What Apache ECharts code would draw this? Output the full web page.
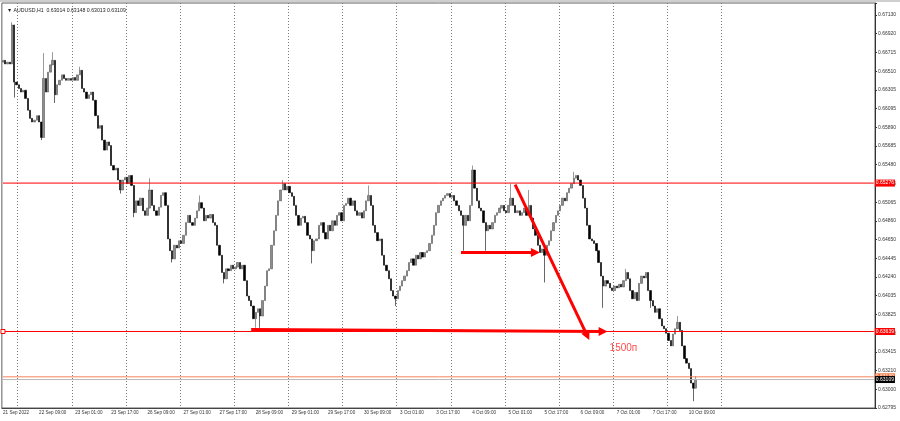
<!DOCTYPE html>
<html>
<head>
<meta charset="utf-8">
<title>AUDUSD,H1</title>
<script src="https://cdn.jsdelivr.net/npm/echarts@6/dist/echarts.min.js"></script>
<style>
  html, body { margin: 0; padding: 0; background: #fff; }
  #chart { width: 900px; height: 421px; }
</style>
</head>
<body>
<div id="chart"></div>
<script>
// AUDUSD H1, 21 Sep 2022 17:00 .. 10 Oct 2022 11:00
const symbolName = 'AUDUSD,H1';

// bottom axis labels, one every 16 bars
const xTickLabels = ['21 Sep 2022', '22 Sep 09:00', '23 Sep 01:00', '23 Sep 17:00', '26 Sep 09:00',
  '27 Sep 01:00', '27 Sep 17:00', '28 Sep 09:00', '29 Sep 01:00', '29 Sep 17:00', '30 Sep 09:00',
  '3 Oct 01:00', '3 Oct 17:00', '4 Oct 09:00', '5 Oct 01:00', '5 Oct 17:00', '6 Oct 09:00',
  '7 Oct 01:00', '7 Oct 17:00', '10 Oct 09:00'];
const barsPerLabel = 16;

// bars that open a new trading day (00:00) -> dotted separators
const dayStartBars = [7, 31, 55, 79, 103, 127, 151, 175, 199, 223, 247, 271, 295, 319];

// price scale labels, bottom to top
const yTickLabels = ['0.62795', '0.63000', '0.63210', '0.63415', '0.63620', '0.63825', '0.64035',
  '0.64240', '0.64445', '0.64650', '0.64860', '0.65065', '0.65275', '0.65480', '0.65685', '0.65890',
  '0.66095', '0.66305', '0.66510', '0.66715', '0.66920', '0.67130'];

// hourly closes
const closes = [
  0.6663, 0.6659, 0.6661, 0.6659, 0.6702, 0.6639, 0.6636, 0.6632, 0.6628, 0.6630, 0.6621, 0.6608, 0.6599, 0.6595, 0.6597, 0.6602,
  0.6595, 0.6578, 0.6643, 0.6628, 0.6650, 0.6658, 0.6663, 0.6625, 0.6636, 0.6641, 0.6647, 0.6643, 0.6641, 0.6643, 0.6641, 0.6644,
  0.6641, 0.6647, 0.6652, 0.6632, 0.6628, 0.6621, 0.6625, 0.6628, 0.6619, 0.6602, 0.6588, 0.6591, 0.6575, 0.6564, 0.6573, 0.6569,
  0.6547, 0.6542, 0.6544, 0.6531, 0.6520, 0.6531, 0.6534, 0.6527, 0.6536, 0.6525, 0.6495, 0.6508, 0.6503, 0.6511, 0.6497, 0.6492,
  0.6500, 0.6520, 0.6503, 0.6497, 0.6492, 0.6501, 0.6514, 0.6517, 0.6503, 0.6466, 0.6453, 0.6444, 0.6459, 0.6456, 0.6464, 0.6461,
  0.6470, 0.6484, 0.6492, 0.6484, 0.6481, 0.6489, 0.6497, 0.6506, 0.6500, 0.6486, 0.6492, 0.6489, 0.6493, 0.6484, 0.6481, 0.6459,
  0.6448, 0.6429, 0.6422, 0.6433, 0.6431, 0.6437, 0.6433, 0.6435, 0.6440, 0.6433, 0.6437, 0.6420, 0.6403, 0.6398, 0.6392, 0.6378,
  0.6385, 0.6389, 0.6381, 0.6398, 0.6414, 0.6431, 0.6433, 0.6459, 0.6475, 0.6492, 0.6508, 0.6520, 0.6527, 0.6520, 0.6524, 0.6517,
  0.6513, 0.6503, 0.6492, 0.6481, 0.6489, 0.6491, 0.6484, 0.6470, 0.6466, 0.6453, 0.6464, 0.6466, 0.6481, 0.6484, 0.6473, 0.6466,
  0.6481, 0.6475, 0.6486, 0.6481, 0.6492, 0.6495, 0.6486, 0.6503, 0.6505, 0.6511, 0.6503, 0.6508, 0.6497, 0.6492, 0.6495, 0.6489,
  0.6497, 0.6508, 0.6514, 0.6503, 0.6481, 0.6473, 0.6464, 0.6466, 0.6448, 0.6437, 0.6431, 0.6422, 0.6409, 0.6403, 0.6400, 0.6409,
  0.6414, 0.6420, 0.6425, 0.6431, 0.6440, 0.6444, 0.6437, 0.6448, 0.6444, 0.6451, 0.6446, 0.6451, 0.6453, 0.6461, 0.6470, 0.6481,
  0.6495, 0.6503, 0.6508, 0.6511, 0.6514, 0.6516, 0.6512, 0.6514, 0.6508, 0.6503, 0.6497, 0.6492, 0.6481, 0.6492, 0.6486, 0.6503,
  0.6542, 0.6522, 0.6508, 0.6500, 0.6497, 0.6484, 0.6475, 0.6481, 0.6477, 0.6484, 0.6492, 0.6495, 0.6500, 0.6503, 0.6497, 0.6495,
  0.6503, 0.6511, 0.6503, 0.6495, 0.6497, 0.6492, 0.6495, 0.6500, 0.6492, 0.6503, 0.6489, 0.6477, 0.6470, 0.6459, 0.6451, 0.6455,
  0.6448, 0.6459, 0.6464, 0.6475, 0.6484, 0.6492, 0.6497, 0.6503, 0.6511, 0.6508, 0.6517, 0.6522, 0.6527, 0.6533, 0.6536, 0.6531,
  0.6525, 0.6511, 0.6500, 0.6481, 0.6466, 0.6464, 0.6461, 0.6453, 0.6440, 0.6425, 0.6414, 0.6420, 0.6417, 0.6412, 0.6409, 0.6414,
  0.6412, 0.6416, 0.6413, 0.6420, 0.6429, 0.6422, 0.6409, 0.6400, 0.6407, 0.6398, 0.6417, 0.6425, 0.6423, 0.6429, 0.6409, 0.6398,
  0.6392, 0.6385, 0.6389, 0.6378, 0.6370, 0.6367, 0.6362, 0.6354, 0.6348, 0.6361, 0.6367, 0.6374, 0.6365, 0.6348, 0.6334, 0.6329,
  0.6323, 0.6307, 0.63014, 0.63109
];
const firstOpen = 0.6661;
// FX hourly bars open where the previous bar closed
const opens = [firstOpen].concat(closes.slice(0, -1));

// wicks that stick out beyond the bodies: [bar, price]
const wickHighs = [[4, 0.6705], [18, 0.6671], [22, 0.6672], [34, 0.6656], [65, 0.6533], [87, 0.6514],
  [124, 0.6531], [162, 0.6525], [208, 0.6547], [225, 0.6527], [233, 0.6520], [253, 0.6540],
  [276, 0.6433], [299, 0.6381], [307, 0.63148]];
const wickLows = [[5, 0.6622], [17, 0.6575], [23, 0.6616], [52, 0.6516], [58, 0.6490], [75, 0.6440],
  [98, 0.6417], [112, 0.6368], [114, 0.6368], [137, 0.6439], [174, 0.6392], [204, 0.6453],
  [214, 0.6453], [240, 0.6418], [266, 0.6390], [287, 0.6390], [306, 0.6287], [307, 0.63013]];

// horizontal levels
const resistanceLevel = 0.65276;
const supportLevel = 0.63639;
const bidPrice = 0.63109;
const askPrice = 0.63139;

// hand-drawn arrows [bar, price]
const longArrow = [[110, 0.6366], [266, 0.6364]];
const shortArrow = [[203, 0.6451], [235.5, 0.6451]];
const dropArrow = [[227, 0.6526], [259.2, 0.6359]];
const noteText = '1500п';
const notePos = [275, 0.6345];

const totalSlots = 387; // bars + empty shift area on the right
const FONT = 'Liberation Sans, Arial, sans-serif';

const hiMap = new Map(wickHighs);
const loMap = new Map(wickLows);
const candles = closes.map((c, i) => {
  const o = opens[i];
  const h = Math.max(o, c, hiMap.has(i) ? hiMap.get(i) : -Infinity);
  const l = Math.min(o, c, loMap.has(i) ? loMap.get(i) : Infinity);
  return [o, c, l, h];
});
const categories = Array.from({ length: totalSlots }, (_, i) => String(i));
const last = candles[candles.length - 1];
const titleText = '▼ ' + symbolName + '  ' + [last[0], last[3], last[2], last[1]].map(v => v.toFixed(5)).join(' ');

// horizontal price line across the chart, its tag sits on the price scale
function levelSeries(price, lineColor, tagColor, z) {
  return {
    type: 'line',
    yAxisIndex: 0,
    data: [[0, price], [totalSlots - 1, price]],
    showSymbol: false,
    symbol: 'none',
    silent: true,
    clip: false,
    z: z,
    lineStyle: { color: lineColor, width: 1, type: 'solid' },
    itemStyle: { color: lineColor },
    emphasis: { disabled: true },
    endLabel: {
      show: true, distance: 1,
      formatter: price.toFixed(5),
      backgroundColor: tagColor, color: '#fff',
      fontSize: 5, fontFamily: FONT, lineHeight: 5, padding: [1, 1, 1, 1]
    }
  };
}

function arrow(pts) {
  const style = { color: '#ff0000', width: 3, type: 'solid' };
  return [
    { coord: pts[0], symbol: 'none', lineStyle: style, label: { show: false } },
    { coord: pts[1], symbol: 'triangle', symbolSize: 9, lineStyle: style, label: { show: false } }
  ];
}

const chart = echarts.init(document.getElementById('chart'), null, { renderer: 'canvas' });

const option = {
  animation: false,
  backgroundColor: '#ffffff',
  title: {
    text: titleText,
    left: 2, top: 3,
    textStyle: { fontSize: 5.2, fontWeight: 'normal', color: '#222', fontFamily: FONT }
  },
  graphic: [{
    type: 'rect', left: 0, top: 0, shape: { width: 900, height: 2 },
    style: { fill: '#cfcfcf' }, silent: true
  }],
  grid: {
    left: 1, right: 25, top: 3, bottom: 13,
    show: true, borderColor: '#606060', borderWidth: 1, backgroundColor: '#fff'
  },
  xAxis: {
    type: 'category',
    data: categories,
    boundaryGap: true,
    axisLine: { lineStyle: { color: '#444' } },
    axisTick: { show: false },
    axisLabel: {
      interval: idx => idx % barsPerLabel === 0 && idx / barsPerLabel < xTickLabels.length,
      formatter: (v, idx) => xTickLabels[idx / barsPerLabel] || '',
      align: 'left', margin: 2,
      fontSize: 4.6, color: '#333', fontFamily: FONT
    },
    splitLine: {
      show: true,
      interval: idx => dayStartBars.includes(idx),
      lineStyle: { color: '#7a7a7a', width: 1, type: [1, 2] }
    }
  },
  yAxis: [{
    // price scale the candles live on
    type: 'value',
    position: 'right',
    show: false,
    min: 0.62795,
    max: 0.672626,
    splitLine: { show: false }
  }, {
    // label scale: one step per printed price
    type: 'value',
    position: 'right',
    min: 0,
    max: 21.641,
    interval: 1,
    axisLine: { show: true, lineStyle: { color: '#333' } },
    axisTick: { show: true, length: 2, lineStyle: { color: '#333' } },
    axisLabel: {
      margin: 3, fontSize: 5, color: '#333', fontFamily: FONT,
      formatter: v => Math.abs(v - Math.round(v)) < 1e-6 ? (yTickLabels[Math.round(v)] || '') : ''
    },
    splitLine: { show: false }
  }],
  series: [
    levelSeries(resistanceLevel, '#ff0000', '#ff0000', 3),
    levelSeries(supportLevel, '#ff0000', '#ff0000', 3),
    levelSeries(askPrice, '#f4845a', '#f4703a', 3),
    levelSeries(bidPrice, '#b8b8b8', '#000000', 4),
    {
      type: 'candlestick',
      yAxisIndex: 0,
      data: candles,
      barWidth: 1.8,
      clip: false,
      itemStyle: {
        color: '#8e8e8e', color0: '#000000',
        borderColor: '#555555', borderColor0: '#000000',
        borderWidth: 0.6
      },
      markLine: {
        silent: true,
        animation: false,
        precision: 5,
        symbol: 'none',
        data: [arrow(longArrow), arrow(shortArrow), arrow(dropArrow)]
      },
      markPoint: {
        silent: true,
        animation: false,
        data: [
          {
            coord: [0, supportLevel], symbol: 'rect', symbolSize: 4,
            itemStyle: { color: '#fff', borderColor: '#ff0000', borderWidth: 1 },
            label: { show: false }
          },
          {
            coord: notePos, symbol: 'circle', symbolSize: 1,
            itemStyle: { color: 'rgba(0,0,0,0)' },
            label: {
              show: true, position: 'inside', formatter: noteText,
              color: '#ff4d4d', fontSize: 10, fontFamily: FONT
            }
          }
        ]
      }
    }
  ]
};

chart.setOption(option);
</script>
</body>
</html>
